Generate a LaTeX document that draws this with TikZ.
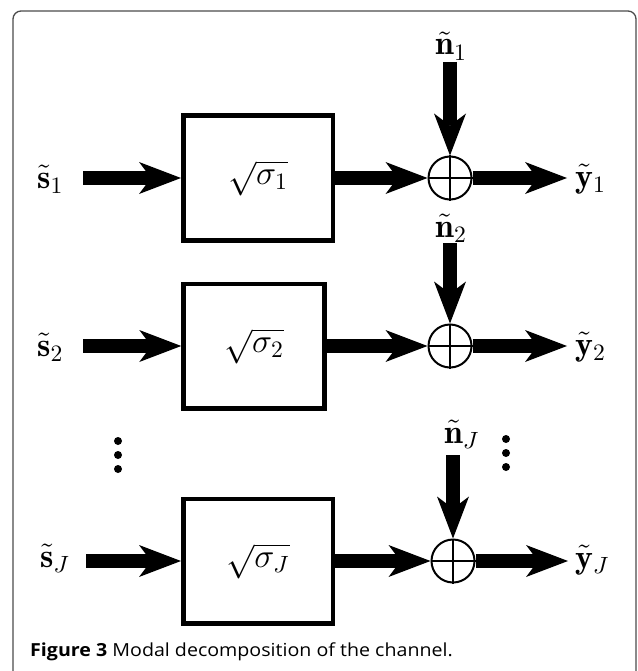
\documentclass[tikz,border=0pt]{standalone}
\usepackage{fontspec}
\newfontfamily\capfont{Open Sans}
\usetikzlibrary{arrows.meta}
\newcommand\biglbl[1]{\scalebox{2.35}{\fontsize{14.4}{17}\selectfont$#1$}}
\begin{document}
\begin{tikzpicture}[x=1pt,y=-1pt,
  lab/.style={inner sep=0pt},
  blk/.style={draw, line width=4.5pt, minimum width=149.5pt, minimum height=124.5pt, inner sep=0pt},
  sumnode/.style={draw, circle, line width=2pt, minimum size=43pt, inner sep=0pt},
  sig/.style={line width=14pt, -{Stealth[length=42pt,width=32pt,inset=12pt,line width=0pt]}},
  dotnode/.style={fill, circle, inner sep=0pt, minimum size=8pt}]
\useasboundingbox (0,0) rectangle (637,671);
\draw[line width=1.3pt, draw=black!70, rounded corners=8pt] (13,700) -- (13,11) -- (636,11) -- (636,700);
% row 1
\node[blk] (b1) at (258,178) {\biglbl{\sqrt{\sigma_1}}};
\node[sumnode] (c1) at (450,178) {};
\draw[line width=2pt] (c1.north) -- (c1.south) (c1.west) -- (c1.east);
\coordinate (i1) at (83,178);
\coordinate (o1) at (567,178);
\coordinate (m1) at (450,62);
\draw[sig] (i1) -- (b1.west);
\draw[sig] (b1.east) -- (c1.west);
\draw[sig] (c1.east) -- (o1);
\draw[sig] (m1) -- (c1.north);
\node[lab, anchor=base west] (s1) at (37,188) {\biglbl{\tilde{\mathbf{s}}_1}};
\node[lab, anchor=base west] (y1) at (575,187) {\biglbl{\tilde{\mathbf{y}}_1}};
\node[lab, anchor=base west] (n1) at (435,55) {\biglbl{\tilde{\mathbf{n}}_1}};
% row 2
\node[blk, minimum width=141pt] (b2) at (254,346) {\biglbl{\sqrt{\sigma_2}}};
\node[sumnode] (c2) at (450,346) {};
\draw[line width=2pt] (c2.north) -- (c2.south) (c2.west) -- (c2.east);
\coordinate (i2) at (83,346);
\coordinate (o2) at (567,346);
\coordinate (m2) at (450,243);
\draw[sig] (i2) -- (b2.west);
\draw[sig] (b2.east) -- (c2.west);
\draw[sig] (c2.east) -- (o2);
\draw[sig] (m2) -- (c2.north);
\node[lab, anchor=base west] (s2) at (37,356) {\biglbl{\tilde{\mathbf{s}}_2}};
\node[lab, anchor=base west] (y2) at (575,355) {\biglbl{\tilde{\mathbf{y}}_2}};
\node[lab, anchor=base west] (n2) at (435,237) {\biglbl{\tilde{\mathbf{n}}_2}};
% row J
\node[blk] (bJ) at (258,561) {\biglbl{\sqrt{\sigma_J}}};
\node[sumnode] (cJ) at (453,561) {};
\draw[line width=2pt] (cJ.north) -- (cJ.south) (cJ.west) -- (cJ.east);
\coordinate (iJ) at (86,561);
\coordinate (oJ) at (568,561);
\coordinate (mJ) at (453,455);
\draw[sig] (iJ) -- (bJ.west);
\draw[sig] (bJ.east) -- (cJ.west);
\draw[sig] (cJ.east) -- (oJ);
\draw[sig] (mJ) -- (cJ.north);
\node[lab, anchor=base west] (sJ) at (40,567) {\biglbl{\tilde{\mathbf{s}}_J}};
\node[lab, anchor=base west] (yJ) at (575,568) {\biglbl{\tilde{\mathbf{y}}_J}};
\node[lab, anchor=base west] (nJ) at (444,443) {\biglbl{\tilde{\mathbf{n}}_J}};
% dots
\node[dotnode] (dl1) at (118,441) {};
\node[dotnode] (dl2) at (118,455) {};
\node[dotnode] (dl3) at (118,469) {};
\node[dotnode] (dr1) at (506,439) {};
\node[dotnode] (dr2) at (506,453) {};
\node[dotnode] (dr3) at (506,467) {};
% caption
\node[anchor=base west, inner sep=0pt] (cap) at (30,656) {\scalebox{1.09}[1]{\capfont\fontsize{18}{21}\selectfont\textbf{Figure 3} Modal decomposition of the channel.}};
\end{tikzpicture}
\end{document}
